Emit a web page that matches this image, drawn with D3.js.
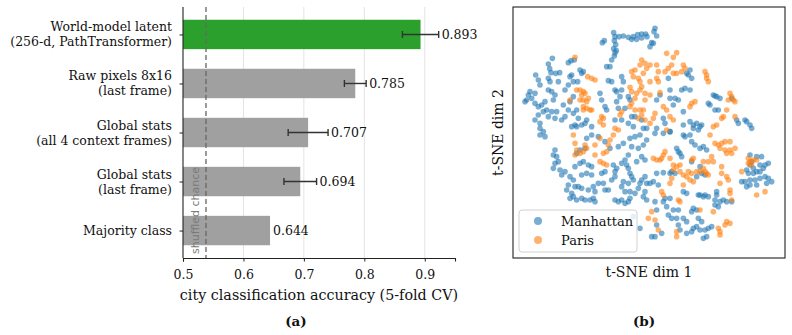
<!DOCTYPE html>
<html>
<head>
<meta charset="utf-8">
<script src="https://cdn.jsdelivr.net/npm/d3@7/dist/d3.min.js"></script>
<style>
  body { margin: 0; background: #fff; }
  svg { display: block; }
  text { font-family: "DejaVu Serif", serif; fill: #111; }
</style>
</head>
<body>
<svg id="chart" width="792" height="335"></svg>
<script>
// ---------- Panel (a) data ----------
const categories = [
  ["World-model latent", "(256-d, PathTransformer)"],
  ["Raw pixels 8x16", "(last frame)"],
  ["Global stats", "(all 4 context frames)"],
  ["Global stats", "(last frame)"],
  ["Majority class"]
];
const accuracy = [0.893, 0.785, 0.707, 0.694, 0.644];
const accuracyErr = [0.030, 0.018, 0.033, 0.027, 0];
const highlight = [true, false, false, false, false];
const xTicks = [0.5, 0.6, 0.7, 0.8, 0.9];
const shuffledChance = 0.538;

// ---------- Panel (b) data: t-SNE embedding (arbitrary units) ----------
const manhattanPts = [
[262,98],[268,92],[296,68],[300,80],[298,92],[302,104],[296,116],[300,128],[298,138],[304,122],
[312,80],[325,78],[340,82],[355,80],[368,74],[380,72],[392,72],[350,88],[365,88],[380,84],[396,80],
[112,145],[100,162],[104,176],[108,188],[122,190],[134,188],[62,195],[70,210],[75,225],[100,205],[105,215],[130,215],
[45,245],[40,255],[35,270],[30,275],[50,265],[60,250],[60,280],[70,290],[80,285],[90,275],[100,240],[110,245],[120,255],
[115,270],[95,300],[110,305],[125,305],[85,305],[100,320],[120,325],[70,315],[75,340],[75,355],[85,365],[60,330],
[140,330],[150,320],[145,285],[150,240],[160,225],[175,215],[188,215],[165,200],[170,195],[195,180],[205,185],[200,190],
[160,158],[168,152],[178,150],
[175,260],[165,275],[160,300],[175,310],[185,300],[190,325],[180,345],[170,350],[185,350],[200,345],[210,340],[215,330],
[230,350],[255,250],[260,270],[270,290],[275,300],[280,212],[290,215],[275,170],[285,170],[290,150],[300,240],[305,245],
[320,200],[325,215],[315,260],[305,275],[310,295],[330,295],[320,330],[300,330],[340,340],[355,350],[350,320],[320,240],
[340,260],[345,270],[360,320],[380,330],[385,355],[395,355],
[420,55],[417,65],[425,78],[410,98],[415,100],[405,110],[460,205],[525,180],[515,190],[520,195],[530,205],[465,240],
[500,240],[510,235],[525,240],[465,265],[480,265],[490,270],[475,285],[425,270],[435,255],[505,305],[445,325],[450,340],
[425,355],[465,365],[505,345],[525,335],[535,345],[545,340],[555,350],[535,355],[550,360],[560,345],[580,280],[585,285],
[600,300],[610,300],[605,260],[615,265],[665,330],[670,340],[690,330],[695,335],[705,345],[710,355],[595,255],[600,258],[650,265],
[75,375],[90,380],[120,420],[115,435],[125,440],[130,455],[120,460],[115,475],[135,480],[150,485],[140,495],[165,500],
[175,510],[160,525],[180,530],[190,530],[200,535],[155,540],[170,550],[175,560],[185,570],[200,565],[210,570],[225,570],
[235,565],[240,575],[165,565],[220,540],[235,530],[240,545],[250,520],[265,520],[270,540],[280,540],[290,510],[300,500],
[200,495],[215,490],[230,495],[180,470],[195,460],[205,455],[220,465],[230,470],[185,430],[195,420],[210,415],[260,490],
[270,485],[295,465],[305,475],[300,485],[320,460],[330,450],[335,465],[340,475],[345,490],[350,500],[355,510],[340,520],
[325,515],[320,530],[330,545],[345,545],[360,550],[370,535],[375,520],[380,510],[390,500],[395,520],[390,545],[385,560],
[395,570],[300,570],[310,575],[320,570],[330,580],[340,575],[345,565],[375,655],[355,620],[310,410],[325,400],[345,385],
[360,380],[375,375],[350,410],[370,415],[385,405],[395,390],[380,440],[390,450],[365,455],[230,375],[250,380],[215,385],
[340,435],[270,395],[285,415],
[420,370],[445,370],[465,365],[505,375],[510,380],[525,375],[530,395],[540,405],[555,415],[565,410],[575,420],[485,415],
[490,425],[495,430],[500,440],[470,485],[480,490],[465,490],[445,488],[425,490],[415,515],[405,520],[430,525],[530,455],
[555,470],[560,490],[570,495],[545,500],[420,575],[425,600],[445,575],[450,565],[455,590],[475,600],[490,600],[460,615],
[470,625],[485,625],[505,625],[515,635],[490,645],[495,660],[515,670],[530,665],[535,655],[545,650],[550,625],[560,635],
[555,660],[570,660],[580,655],[590,650],[565,685],[575,680],[535,595],[545,600],[530,605],[550,555],[555,555],[565,560],
[570,555],[580,560],[605,545],[605,555],[600,570],[600,585],[610,590],[615,575],[625,570],[635,575],[650,575],[505,545],
[515,550],[465,565],[425,645],[440,670],[420,680],[410,680],[705,435],[725,440],[740,440],[710,455],[705,465],[695,480],
[700,490],[715,490],[725,485],[735,485],[745,475],[750,465],[760,460],[705,510],[690,515],[680,515],[720,510],[735,505],
[750,500],[760,505],[755,520],[770,515],[725,525],[695,530],[705,525],[735,465],[715,475]
];
const parisPts = [
[180,142],[218,200],[230,205],[240,210],[185,240],[195,240],[205,245],[210,250],[200,255],[195,270],[205,270],[215,275],
[220,265],[205,290],[215,295],[225,300],[205,300],[230,300],[165,270],[260,320],[265,325],[255,335],[265,345],[300,355],
[310,360],[350,185],[355,200],[360,180],[375,165],[380,150],[390,160],[395,175],[385,190],[370,205],[375,215],[380,230],
[375,240],[345,232],[350,245],[365,250],[360,265],[350,280],[345,290],[360,300],[375,300],[385,300],[390,270],[390,250],
[380,315],[370,325],[390,330],[320,305],[315,315],
[455,130],[485,128],[475,142],[470,165],[460,175],[450,185],[430,185],[425,165],[405,165],[505,165],[510,175],[500,185],
[485,190],[475,190],[425,205],[430,215],[405,215],[435,248],[405,255],[445,290],[455,300],[465,320],[475,330],[420,310],
[415,325],[530,280],[540,275],[525,290],[570,185],[575,195],[575,205],[580,215],[645,250],[650,260],[655,270],[660,275],
[640,270],[635,300],[625,320],[620,325],[605,345],[595,350],[660,320],[455,360],[405,340],
[175,375],[180,400],[185,420],[180,435],[195,430],[205,425],[215,415],[210,405],[240,405],[255,385],[265,430],[275,425],
[280,405],[285,390],[295,375],[255,455],[265,460],[275,465],[240,435],[400,625],
[585,375],[600,400],[610,405],[620,400],[630,395],[645,395],[615,415],[630,420],[645,420],[660,415],[635,430],[650,430],
[590,440],[595,455],[580,455],[450,425],[445,435],[440,445],[435,450],[465,445],[425,450],[415,445],[475,465],[495,465],
[485,470],[475,480],[495,485],[505,495],[515,500],[525,510],[535,515],[520,485],[530,490],[545,485],[555,485],[565,475],
[570,485],[575,490],[580,495],[530,450],[535,445],[565,455],[620,470],[620,490],[635,500],[640,510],[615,520],[645,540],
[645,550],[650,570],[595,605],[635,635],[645,640],[630,645],[610,655],[615,665],[615,675],[485,665],[485,680],[430,660],
[420,630],[410,605],[440,545],[445,555],[465,520],[470,505],[490,570],[495,575],[555,600],[680,485],[700,460],[705,455],
[710,465],[715,450],[725,450],[700,445],[725,555],[750,545],[505,525]
];

// ---------- Drawing ----------
const svg = d3.select("#chart");

// Panel (a)
const ax = { left: 183, right: 455, top: 7, bottom: 258 };
const x = d3.scaleLinear().domain([0.5, 0.95]).range([ax.left, ax.right]);
const y = d3.scaleLinear().domain([-0.56, 4.56]).range([ax.top, ax.bottom]);
const barH = y(0.6) - y(0);

const gA = svg.append("g");

gA.selectAll("line.grid").data(xTicks.slice(1)).join("line")
  .attr("class", "grid")
  .attr("x1", d => x(d)).attr("x2", d => x(d))
  .attr("y1", ax.top).attr("y2", ax.bottom)
  .attr("stroke", "#e3e3e3").attr("stroke-width", 1);

gA.selectAll("rect.bar").data(accuracy).join("rect")
  .attr("class", "bar")
  .attr("x", x(0.5))
  .attr("y", (d, i) => y(i) - barH / 2)
  .attr("width", d => x(d) - x(0.5))
  .attr("height", barH)
  .attr("fill", (d, i) => highlight[i] ? "#2ca02c" : "#a0a0a0");

gA.append("line")
  .attr("x1", x(shuffledChance)).attr("x2", x(shuffledChance))
  .attr("y1", ax.top).attr("y2", ax.bottom)
  .attr("stroke", "#666").attr("stroke-width", 1.3)
  .attr("stroke-dasharray", "5,3");

gA.append("text")
  .attr("transform", `translate(${x(shuffledChance) - 10.5},${ax.bottom - 4}) rotate(-90)`)
  .attr("dominant-baseline", "central")
  .style("font-family", "'DejaVu Sans', sans-serif")
  .style("font-size", "11px")
  .style("fill", "#7a7a7a")
  .text("shuffled chance");

const capH = 3.5;
accuracy.forEach((v, i) => {
  const e = accuracyErr[i];
  if (e > 0) {
    const cy = y(i);
    const g = gA.append("g").attr("stroke", "#333").attr("stroke-width", 1.4);
    g.append("line").attr("x1", x(v - e)).attr("x2", x(v + e)).attr("y1", cy).attr("y2", cy);
    g.append("line").attr("x1", x(v - e)).attr("x2", x(v - e)).attr("y1", cy - capH).attr("y2", cy + capH);
    g.append("line").attr("x1", x(v + e)).attr("x2", x(v + e)).attr("y1", cy - capH).attr("y2", cy + capH);
  }
  gA.append("text")
    .attr("x", x(v + e) + 3)
    .attr("y", y(i))
    .attr("dominant-baseline", "central")
    .style("font-size", "12.5px")
    .text(v.toFixed(3));
});

const xAxis = d3.axisBottom(x).tickValues(xTicks).tickFormat(d3.format(".1f")).tickSizeOuter(0).tickSize(3.5);
const gx = gA.append("g").attr("transform", `translate(0,${ax.bottom})`).call(xAxis);
gx.select(".domain").attr("stroke", "#222").attr("stroke-width", 1.1);
gx.selectAll(".tick line").attr("stroke", "#222");
gx.selectAll(".tick text").style("font-family", "'DejaVu Serif', serif").style("font-size", "12.5px").attr("fill", "#111").attr("dy", "1.15em");

const yAxis = d3.axisLeft(y).tickValues(d3.range(categories.length)).tickFormat("").tickSizeOuter(0).tickSize(3.5);
const gy = gA.append("g").attr("transform", `translate(${ax.left},0)`).call(yAxis);
gy.select(".domain").attr("stroke", "#222").attr("stroke-width", 1.1)
  .attr("d", `M0,${ax.top}V${ax.bottom}`);
gy.selectAll(".tick line").attr("stroke", "#222");

categories.forEach((lines, i) => {
  const t = gA.append("text")
    .attr("text-anchor", "end")
    .style("font-size", "12.5px");
  const n = lines.length;
  lines.forEach((ln, j) => {
    t.append("tspan")
      .attr("x", ax.left - 11)
      .attr("y", y(i) + (j - (n - 1) / 2) * 15)
      .attr("dominant-baseline", "central")
      .text(ln);
  });
});

gA.append("text")
  .attr("x", (ax.left + ax.right) / 2).attr("y", 295)
  .attr("text-anchor", "middle").attr("dominant-baseline", "central")
  .style("font-size", "14.3px")
  .text("city classification accuracy (5-fold CV)");

gA.append("text")
  .attr("x", 296).attr("y", 321)
  .attr("text-anchor", "middle").attr("dominant-baseline", "central")
  .style("font-size", "13.5px").style("font-weight", "bold")
  .text("(a)");

// Panel (b)
const bx = { left: 513, right: 785, top: 7, bottom: 258 };
const sx = d3.scaleLinear().domain([-6, 810]).range([bx.left, bx.right]);
const sy = d3.scaleLinear().domain([-9, 744]).range([bx.top, bx.bottom]);
const gB = svg.append("g");

gB.append("rect")
  .attr("x", bx.left).attr("y", bx.top)
  .attr("width", bx.right - bx.left).attr("height", bx.bottom - bx.top)
  .attr("fill", "none").attr("stroke", "#222").attr("stroke-width", 1.1);

const colM = "#1f77b4", colP = "#ff7f0e";
gB.selectAll("circle.m").data(manhattanPts).join("circle")
  .attr("class", "m")
  .attr("cx", d => sx(d[0])).attr("cy", d => sy(d[1])).attr("r", 2.8)
  .attr("fill", colM).attr("fill-opacity", 0.6);
gB.selectAll("circle.p").data(parisPts).join("circle")
  .attr("class", "p")
  .attr("cx", d => sx(d[0])).attr("cy", d => sy(d[1])).attr("r", 2.8)
  .attr("fill", colP).attr("fill-opacity", 0.6);

const lg = gB.append("g");
lg.append("rect")
  .attr("x", 519).attr("y", 210).attr("width", 118).attr("height", 42)
  .attr("rx", 3).attr("fill", "#fff").attr("fill-opacity", 0.8)
  .attr("stroke", "#d0d0d0").attr("stroke-width", 1);
[["Manhattan", colM], ["Paris", colP]].forEach(([name, c], i) => {
  const cy = 221 + i * 19;
  lg.append("circle").attr("cx", 538).attr("cy", cy).attr("r", 4)
    .attr("fill", c).attr("fill-opacity", 0.6);
  lg.append("text").attr("x", 561).attr("y", cy)
    .attr("dominant-baseline", "central").style("font-size", "13px").text(name);
});

gB.append("text")
  .attr("x", (bx.left + bx.right) / 2).attr("y", 272)
  .attr("text-anchor", "middle").attr("dominant-baseline", "central")
  .style("font-size", "14px").text("t-SNE dim 1");

gB.append("text")
  .attr("transform", `translate(498,${(bx.top + bx.bottom) / 2}) rotate(-90)`)
  .attr("text-anchor", "middle").attr("dominant-baseline", "central")
  .style("font-size", "14px").text("t-SNE dim 2");

gB.append("text")
  .attr("x", 644).attr("y", 321)
  .attr("text-anchor", "middle").attr("dominant-baseline", "central")
  .style("font-size", "13.5px").style("font-weight", "bold")
  .text("(b)");
</script>
</body>
</html>
